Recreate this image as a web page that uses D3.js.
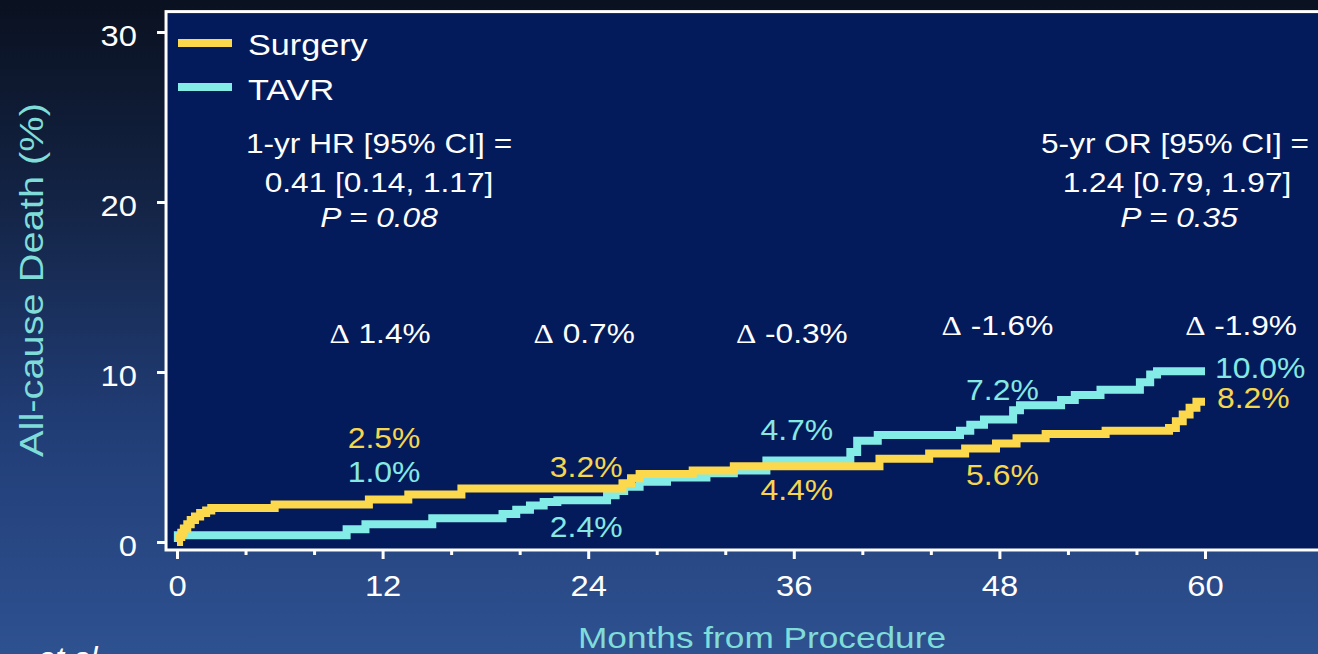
<!DOCTYPE html>
<html><head><meta charset="utf-8">
<script src="https://cdn.jsdelivr.net/npm/d3@7"></script>
<style>html,body{margin:0;padding:0;background:#0b1324;overflow:hidden}</style>
</head><body>
<svg id="chart" width="1318" height="654"></svg>
<script>
// ---------- data ----------
const seriesNames = ["Surgery", "TAVR"];
const surgeryMonths = [0, 0.12, 0.25, 0.4, 0.6, 0.8, 1.05, 1.35, 1.7, 2.0, 5.7, 11.2, 13.5, 16.6, 26.0, 26.5, 27.0, 30.1, 32.5, 41.0, 43.9, 46.0, 47.8, 49.0, 50.7, 54.2, 57.9, 58.3, 58.7, 59.1, 59.5, 60.0];
const surgeryPct    = [0, 0.3, 0.55, 0.8, 1.05, 1.3, 1.5, 1.7, 1.85, 2.0, 2.2, 2.5, 2.8, 3.15, 3.45, 3.75, 4.0, 4.2, 4.45, 4.9, 5.2, 5.5, 5.8, 6.1, 6.35, 6.55, 6.7, 7.1, 7.5, 7.9, 8.25, 8.25];
const tavrMonths = [0, 0.05, 9.9, 11.0, 14.9, 19.0, 19.8, 20.6, 21.4, 22.2, 25.1, 25.6, 26.1, 27.0, 28.6, 30.9, 32.5, 34.4, 39.3, 39.7, 40.9, 45.7, 46.3, 47.1, 48.8, 49.2, 51.6, 52.4, 53.9, 56.2, 56.8, 57.2, 60.0];
const tavrPct    = [0, 0.4, 0.75, 1.05, 1.4, 1.65, 1.9, 2.15, 2.35, 2.45, 2.75, 3.0, 3.25, 3.55, 3.8, 4.05, 4.2, 4.8, 5.3, 5.95, 6.3, 6.55, 6.9, 7.2, 7.75, 8.05, 8.35, 8.65, 8.95, 9.4, 9.85, 10.05, 10.05];
const xTicks = [0, 12, 24, 36, 48, 60];
const xMinorTicks = [4, 8, 16, 20, 28, 32, 40, 44, 52, 56];
const yTicks = [0, 10, 20, 30];
const landmarkMonths = [12, 24, 36, 48, 60];
const surgeryLabels = ["2.5%", "3.2%", "4.4%", "5.6%", "8.2%"];
const tavrLabels = ["1.0%", "2.4%", "4.7%", "7.2%", "10.0%"];
const deltaLabels = ["1.4%", "0.7%", "-0.3%", "-1.6%", "-1.9%"];
const hrLines = ["1-yr HR [95% CI] =", "0.41 [0.14, 1.17]", "P = 0.08"];
const orLines = ["5-yr OR [95% CI] =", "1.24 [0.79, 1.97]", "P = 0.35"];
const xTitle = "Months from Procedure";
const yTitle = "All-cause Death (%)";

// ---------- styles ----------
const YELLOW = "#fcd84c", CYAN = "#84ece6";
const YELLOW_T = "#f6d64e", CYAN_T = "#86e8e2";
const FONT = "'Liberation Sans', Arial, sans-serif";
const SX = 1.13;

const svg = d3.select("#chart");
const defs = svg.append("defs");
const grad = defs.append("linearGradient").attr("id", "bg").attr("x1", 0).attr("y1", 0).attr("x2", 0).attr("y2", 1);
[[0, "#0a1120"], [0.3, "#132344"], [0.65, "#213d76"], [1, "#2e5190"]].forEach(([o, c]) =>
  grad.append("stop").attr("offset", o).attr("stop-color", c));
svg.append("rect").attr("width", 1318).attr("height", 654).attr("fill", "url(#bg)");

const x = d3.scaleLinear().domain([0, 60]).range([177, 1205]);
const y = d3.scaleLinear().domain([0, 30]).range([542, 32]);

const fx0 = x(-0.64), fy0 = y(-0.47), fy1 = y(31.2);
svg.append("rect").attr("x", fx0).attr("y", fy1).attr("width", 1400).attr("height", fy0 - fy1)
  .attr("fill", "#041b5b").attr("stroke", "#ffffff").attr("stroke-width", 3);

function txt(g, s, px, py, o = {}) {
  const t = g.append("text")
    .attr("transform", `translate(${px},${py}) scale(${o.sx || SX},1)`)
    .attr("font-family", o.family || FONT)
    .attr("font-size", o.size || 28)
    .attr("font-style", o.italic ? "italic" : null)
    .attr("text-anchor", o.anchor || "start")
    .attr("fill", o.fill || "#ffffff");
  t.text(s);
  return t;
}

// axes
const yAxis = svg.append("g").attr("transform", `translate(${fx0},0)`)
  .call(d3.axisLeft(y).tickValues(yTicks).tickSize(9).tickPadding(20));
const xAxis = svg.append("g").attr("transform", `translate(0,${fy0})`)
  .call(d3.axisBottom(x).tickValues(xTicks).tickSize(9).tickPadding(16));
const xMinor = svg.append("g").attr("transform", `translate(0,${fy0})`)
  .call(d3.axisBottom(x).tickValues(xMinorTicks).tickSize(5).tickFormat(""));
[yAxis, xAxis, xMinor].forEach(a => {
  a.select(".domain").remove();
  a.selectAll("line").attr("stroke", "#fff").attr("stroke-width", 3);
  a.selectAll("text").attr("fill", "#fff").attr("font-family", FONT).attr("font-size", 29);
});
yAxis.selectAll("text").attr("dy", "0.45em").each(function () {
  const tx = +d3.select(this).attr("x");
  d3.select(this).attr("transform", `translate(${tx},0) scale(${SX},1) translate(${-tx},0)`);
});
xAxis.selectAll("text").attr("transform", `scale(${SX},1)`);

// axis titles
svg.append("text").attr("transform", "translate(43,280) rotate(-90) scale(1,1.13)")
  .attr("text-anchor", "middle").attr("font-family", FONT).attr("font-size", 30)
  .attr("fill", "#7fdcd8").attr("textLength", 354).attr("lengthAdjust", "spacingAndGlyphs").text(yTitle);
svg.append("text").attr("x", 762).attr("y", 648)
  .attr("text-anchor", "middle").attr("font-family", FONT).attr("font-size", 30)
  .attr("fill", "#7fdcd8").attr("textLength", 368).attr("lengthAdjust", "spacingAndGlyphs").text(xTitle);

// curves
const plot = svg.append("g");
const line = d3.line().x(d => x(d[0])).y(d => y(d[1])).curve(d3.curveStepAfter);
const tavrData = tavrMonths.map((m, i) => [m, tavrPct[i]]);
const surgData = surgeryMonths.map((m, i) => [m, surgeryPct[i]]);
plot.append("path").datum(tavrData).attr("d", line).attr("fill", "none")
  .attr("stroke", CYAN).attr("stroke-width", 8).attr("stroke-linejoin", "miter");
plot.append("path").datum(surgData).attr("d", line).attr("fill", "none")
  .attr("stroke", YELLOW).attr("stroke-width", 8).attr("stroke-linejoin", "miter");

// legend
const leg = svg.append("g");
[[seriesNames[0], YELLOW, 43, 55], [seriesNames[1], CYAN, 87, 100]].forEach(([n, c, ly, ty]) => {
  leg.append("line").attr("x1", 178).attr("x2", 232).attr("y1", ly).attr("y2", ly)
    .attr("stroke", c).attr("stroke-width", 8);
  txt(leg, n, 248, ty, { size: 30, sx: 1.14 });
});

// HR / OR annotations
const ann = svg.append("g");
const annBase = [153, 192, 227];
hrLines.forEach((s, i) => txt(ann, s, 379, annBase[i], { anchor: "middle", italic: i === 2 }));
orLines.forEach((s, i) => txt(ann, s, 1175 + i * 2, annBase[i], { anchor: "middle", italic: i === 2 }));

// landmark labels
const lab = svg.append("g");
const sBase = [448, 477, 500, 485, 408];
const tBase = [482, 537, 440, 400, 378];
const lOff = [1.5, -2, 3, 3];
const dOff = [-2.6, -4, -2, -2, 36];
const dBase = [343, 343, 343, 335, 335];
landmarkMonths.forEach((m, i) => {
  if (i < 4) {
    txt(lab, surgeryLabels[i], x(m) + lOff[i], sBase[i], { anchor: "middle", size: 29, sx: 1.1, fill: YELLOW_T });
    txt(lab, tavrLabels[i], x(m) + lOff[i], tBase[i], { anchor: "middle", size: 29, sx: 1.1, fill: CYAN_T });
  } else {
    txt(lab, tavrLabels[i], x(m) + 10, tBase[i], { size: 29, sx: 1.1, fill: CYAN_T });
    txt(lab, surgeryLabels[i], x(m) + 12, sBase[i], { size: 29, sx: 1.1, fill: YELLOW_T });
  }
  const t = txt(lab, "", x(m) + dOff[i], dBase[i], { anchor: "middle", size: 28 });
  t.append("tspan").attr("font-family", "'Liberation Serif', 'Times New Roman', serif").text("\u0394");
  t.append("tspan").text(" " + deltaLabels[i]);
});

// cropped footnote (cut by the bottom edge, as in the reference)
txt(svg, "et al.", 38, 668, { size: 30, italic: true, sx: 1.05 });
</script>
</body></html>
